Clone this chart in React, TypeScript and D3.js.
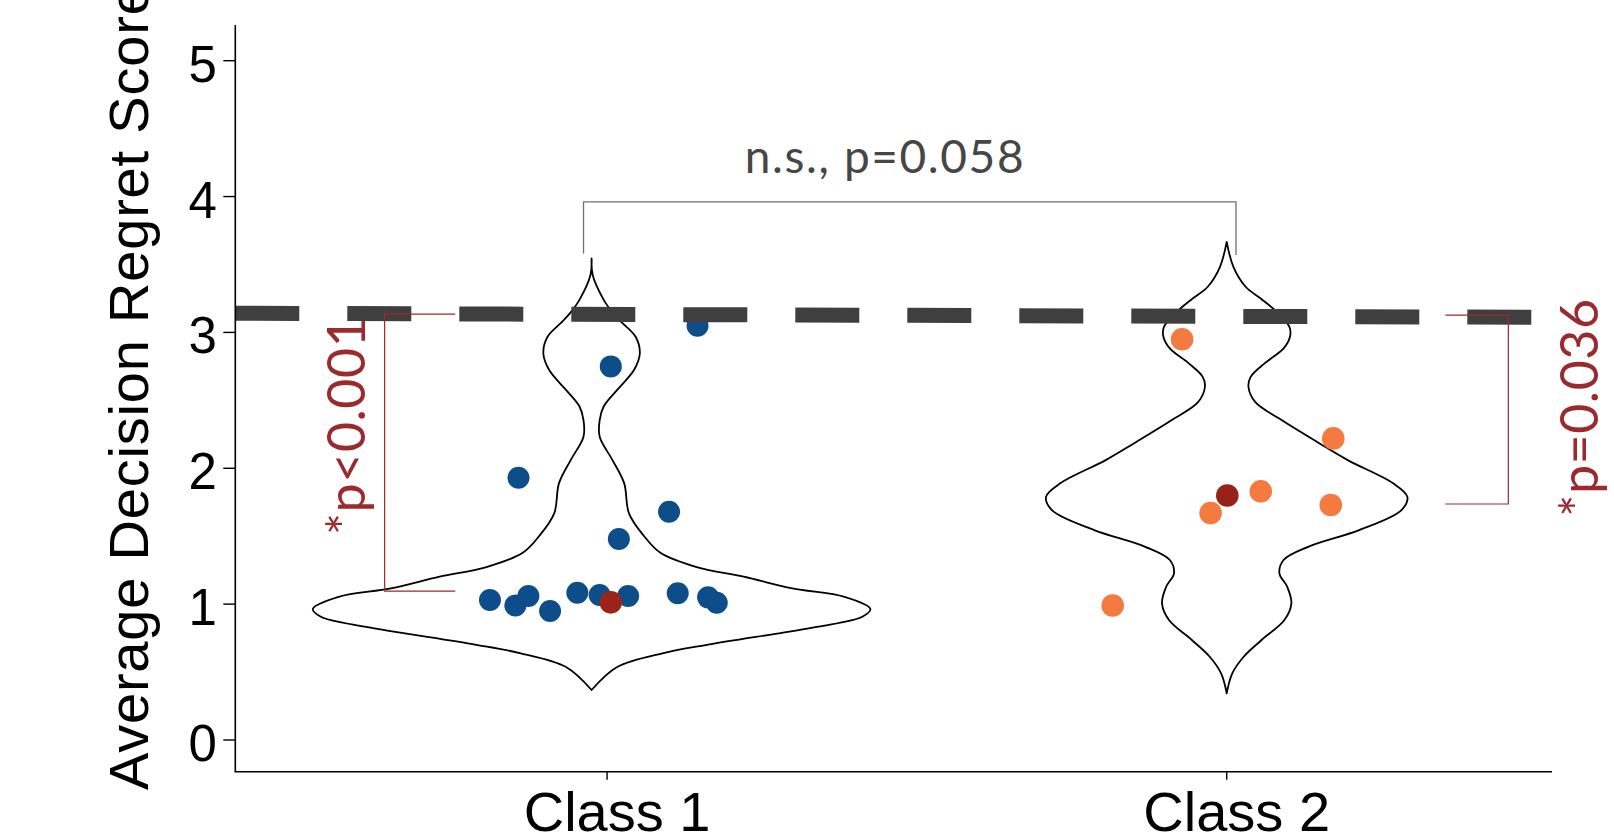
import * as d3 from 'd3';

const categories = ['Class 1', 'Class 2'];
const yTicks = [0, 1, 2, 3, 4, 5];

// jittered points: offset from class centre (x units) and score
const class1Jitter = [-0.189, -0.148, -0.127, -0.092, -0.048, -0.012, 0.034, 0.114, 0.163, 0.177, -0.143, 0.006, 0.019, 0.1, 0.146];
const class1Scores = [1.03, 0.99, 1.06, 0.95, 1.084, 1.067, 1.06, 1.08, 1.05, 1.01, 1.93, 2.75, 1.48, 1.68, 3.05];
const class2Jitter = [-0.072, 0.172, 0.055, 0.168, -0.026, -0.184];
const class2Scores = [2.95, 2.22, 1.83, 1.73, 1.67, 0.99];

// highlighted centre points (one per class)
const centreJitter = [0.006, 0.001];
const centreScores = [1.013, 1.8];

// violin outlines: score levels and relative density
const violin1Levels = [3.544, 3.422, 3.238, 3.14, 3.078, 2.968, 2.845, 2.723, 2.575, 2.453, 2.355, 2.232, 2.06, 1.889, 1.668, 1.496, 1.378, 1.271, 1.202, 1.116, 1.054, 0.964, 0.907, 0.834, 0.792, 0.699, 0.638, 0.539, 0.368];
const violin1Density = [0, 0.004, 0.044, 0.078, 0.106, 0.158, 0.173, 0.152, 0.091, 0.043, 0.029, 0.029, 0.075, 0.117, 0.134, 0.19, 0.247, 0.38, 0.545, 0.72, 0.907, 1, 0.971, 0.814, 0.692, 0.409, 0.254, 0.093, 0];
const violin2Levels = [3.667, 3.483, 3.336, 3.25, 3.176, 3.041, 2.968, 2.882, 2.772, 2.673, 2.6, 2.489, 2.355, 2.183, 2.06, 1.889, 1.79, 1.692, 1.545, 1.422, 1.325, 1.227, 1.128, 1.006, 0.883, 0.736, 0.613, 0.491, 0.344];
const violin2Density = [0, 0.024, 0.068, 0.122, 0.166, 0.225, 0.227, 0.204, 0.136, 0.086, 0.078, 0.102, 0.197, 0.333, 0.434, 0.597, 0.648, 0.627, 0.475, 0.292, 0.204, 0.189, 0.217, 0.232, 0.207, 0.125, 0.061, 0.02, 0];
const violinCentres = [0.975, 2.0];

// reference (dashed) line endpoints
const refLineX = [0.4, 2.525];
const refLineY = [3.141, 3.111];

// comparison annotations
const nsBracketX = [0.962, 2.015];
const nsBracketY = [3.961, 3.58, 3.57];
const nsLabel = 'n.s., p=0.058';
const leftBracketX = [0.641, 0.755];
const leftBracketY = [3.135, 1.096];
const leftLabel = '*p<0.001';
const rightBracketX = [2.4545, 2.353];
const rightBracketY = [3.127, 1.737];
const rightLabel = '*p=0.036';

const W = 1614;
const H = 839;

export default function App() {
  const x = d3.scaleLinear().domain([0.4, 2.525]).range([235.3, 1552]);
  const y = d3.scaleLinear().domain([0, 5]).range([740, 60.7]);
  const yTop = 25;
  const yBottom = 771.7;
  const halfW = 0.45;

  const violins = [
    { levels: violin1Levels, dens: violin1Density, c: violinCentres[0] },
    { levels: violin2Levels, dens: violin2Density, c: violinCentres[1] },
  ].map(v => {
    const rows = v.levels.map((l, i) => ({ l, d: v.dens[i] }));
    return d3.area<{ l: number; d: number }>()
      .curve(d3.curveCatmullRom)
      .y(r => y(r.l))
      .x0(r => x(v.c - r.d * halfW))
      .x1(r => x(v.c + r.d * halfW))(rows) || '';
  });

  const refLine = d3.line<number>()
    .x((_, i) => x(refLineX[i]))
    .y(d => y(d))(refLineY) || '';

  const axisFont = '"Liberation Sans", Arial, Helvetica, sans-serif';
  const noteFont = 'Lato, "Open Sans", sans-serif';
  const red = '#9b2a2f';

  const nsPath = `M${x(nsBracketX[0])},${y(nsBracketY[1])}V${y(nsBracketY[0])}H${x(nsBracketX[1])}V${y(nsBracketY[2])}`;
  const lPath = `M${x(leftBracketX[1])},${y(leftBracketY[0])}H${x(leftBracketX[0])}V${y(leftBracketY[1])}H${x(leftBracketX[1])}`;
  const rPath = `M${x(rightBracketX[1])},${y(rightBracketY[0])}H${x(rightBracketX[0])}V${y(rightBracketY[1])}H${x(rightBracketX[1])}`;

  return (
    <svg width={W} height={H} style={{ position: 'fixed', left: 0, top: 0, background: '#fff' }}>
      <rect width={W} height={H} fill="#fff" />

      {/* violins */}
      {violins.map((p, i) => (
        <path key={i} d={p} fill="#fff" stroke="#000" strokeWidth={1.8} strokeLinejoin="round" />
      ))}

      {/* points */}
      {class1Scores.map((s, i) => (
        <circle key={'a' + i} cx={x(1 + class1Jitter[i])} cy={y(s)} r={11} fill="#0d4d8a" />
      ))}
      {class2Scores.map((s, i) => (
        <circle key={'b' + i} cx={x(2 + class2Jitter[i])} cy={y(s)} r={11.3} fill="#f47a40" />
      ))}
      {centreScores.map((s, i) => (
        <circle key={'c' + i} cx={x(i + 1 + centreJitter[i])} cy={y(s)} r={11.3} fill={i === 0 ? '#9b2419' : '#962218'} />
      ))}

      {/* dashed reference line */}
      <path d={refLine} stroke="#3f3f3f" strokeWidth={15} strokeDasharray="64 48" fill="none" />

      {/* axes */}
      <line x1={x(0.4)} x2={x(0.4)} y1={yTop} y2={yBottom} stroke="#000" strokeWidth={1.6} />
      <line x1={x(0.4) - 0.8} x2={x(2.525)} y1={yBottom} y2={yBottom} stroke="#000" strokeWidth={1.6} />
      {yTicks.map(t => (
        <g key={t}>
          <line x1={x(0.4) - 12} x2={x(0.4)} y1={y(t)} y2={y(t)} stroke="#000" strokeWidth={1.4} />
          <text x={x(0.4) - 18.5} y={y(t) + 21} textAnchor="end" fontFamily={axisFont} fontSize={51} fill="#000">{t}</text>
        </g>
      ))}
      {categories.map((c, i) => (
        <g key={c}>
          <line x1={x(i + 1)} x2={x(i + 1)} y1={yBottom} y2={yBottom + 8} stroke="#000" strokeWidth={1.4} />
          <text x={x(i + 1) + 10} y={831} textAnchor="middle" fontFamily={axisFont} fontSize={56} fill="#000">{c}</text>
        </g>
      ))}
      <text transform="translate(148.3,790) rotate(-90)" textAnchor="start" fontFamily={axisFont} fontSize={56} letterSpacing={0.8} fill="#000">
        Average Decision Regret Score
      </text>

      {/* comparison between classes */}
      <path d={nsPath} fill="none" stroke="#707070" strokeWidth={1.3} />
      <text x={885} y={173.3} textAnchor="middle" fontFamily={noteFont} fontWeight={400} fontSize={46} letterSpacing={1.6} fill="#464646">{nsLabel}</text>

      {/* comparison against reference line */}
      <path d={lPath} fill="none" stroke={red} strokeWidth={1.2} />
      <path d={rPath} fill="none" stroke={red} strokeWidth={1.2} />
      <text transform="translate(365,535) rotate(-90)" textAnchor="start" fontFamily={noteFont} fontWeight={400} fontSize={52} letterSpacing={0.5} fill={red}>{leftLabel}</text>
      <text transform="translate(1597.6,516.7) rotate(-90)" textAnchor="start" fontFamily={noteFont} fontWeight={400} fontSize={52} letterSpacing={0.5} fill={red}>{rightLabel}</text>
    </svg>
  );
}
